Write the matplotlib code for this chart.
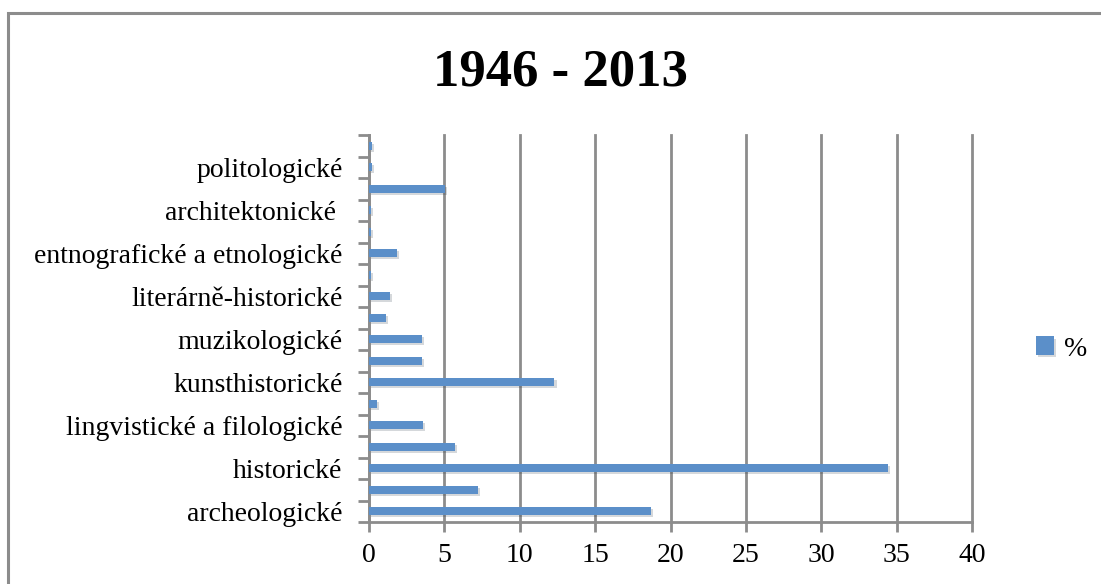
import matplotlib
matplotlib.use("Agg")
import matplotlib.pyplot as plt
from matplotlib.patches import Rectangle
import matplotlib.patheffects as pe

title = "1946 - 2013"
series_name = "%"
categories = ["archeologické", "", "historické", "", "lingvistické a filologické", "",
              "kunsthistorické", "", "muzikologické", "", "literárně-historické", "",
              "entnografické a etnologické", "", "architektonické ", "", "politologické", ""]
values = [18.7, 7.2, 34.4, 5.7, 3.6, 0.5, 12.3, 3.5, 3.5, 1.15, 1.4, 0.1,
          1.85, 0.1, 0.1, 5.05, 0.2, 0.2]
xticks = [0, 5, 10, 15, 20, 25, 30, 35, 40]

plt.rcParams['font.family'] = ['Liberation Serif', 'DejaVu Serif']

fig = plt.figure(figsize=(11.01, 5.84), dpi=100)
fig.patches.append(Rectangle((8/1101, -0.1), 1.2, 1 - 13/584 + 0.1, transform=fig.transFigure,
                             fill=False, edgecolor='#8c8c8c', linewidth=2.2))

ax = fig.add_axes([369/1101, 1 - 522/584, (972-369)/1101, (522-135)/584])
bar_color = '#5b8fc9'
ypos = list(range(len(values)))
bars = ax.barh(ypos, values, height=0.38, color=bar_color, label=series_name, zorder=3,
               path_effects=[pe.SimplePatchShadow(offset=(1.5, -1.5), alpha=0.18), pe.Normal()])

ax.set_xlim(0, 40)
ax.set_ylim(-0.5, len(values) - 0.5)
ax.set_xticks(xticks)
ax.set_xticklabels([str(t) for t in xticks], fontsize=20)
ax.set_yticks(ypos)
ax.set_yticklabels(categories, fontsize=20)
ax.tick_params(axis='y', length=0, pad=19)
ax.tick_params(axis='x', length=7, width=2, color='#8c8c8c', pad=8)
# category boundary ticks
ax.set_yticks([i - 0.5 for i in range(len(values) + 1)], minor=True)
ax.tick_params(axis='y', which='minor', length=8, width=2, color='#8c8c8c')
ax.xaxis.grid(True, color='#8c8c8c', linewidth=2, zorder=0)
for gl in ax.get_xgridlines():
    gl.set_clip_on(False)
for s in ['top', 'right']:
    ax.spines[s].set_visible(False)
for s in ['left', 'bottom']:
    ax.spines[s].set_color('#8c8c8c')
    ax.spines[s].set_linewidth(2)

fig.text(560/1101, 1 - 72/584, title, fontsize=38, fontweight='bold', ha='center', va='center')
fig.legend(handles=[bars], labels=[series_name], loc='center left',
           bbox_to_anchor=(1036/1101, 1 - 349/584), frameon=False, fontsize=20,
           borderaxespad=0, borderpad=0,
           handlelength=0.65, handleheight=0.65, handletextpad=0.35)

fig.savefig("out.png", dpi=100)
